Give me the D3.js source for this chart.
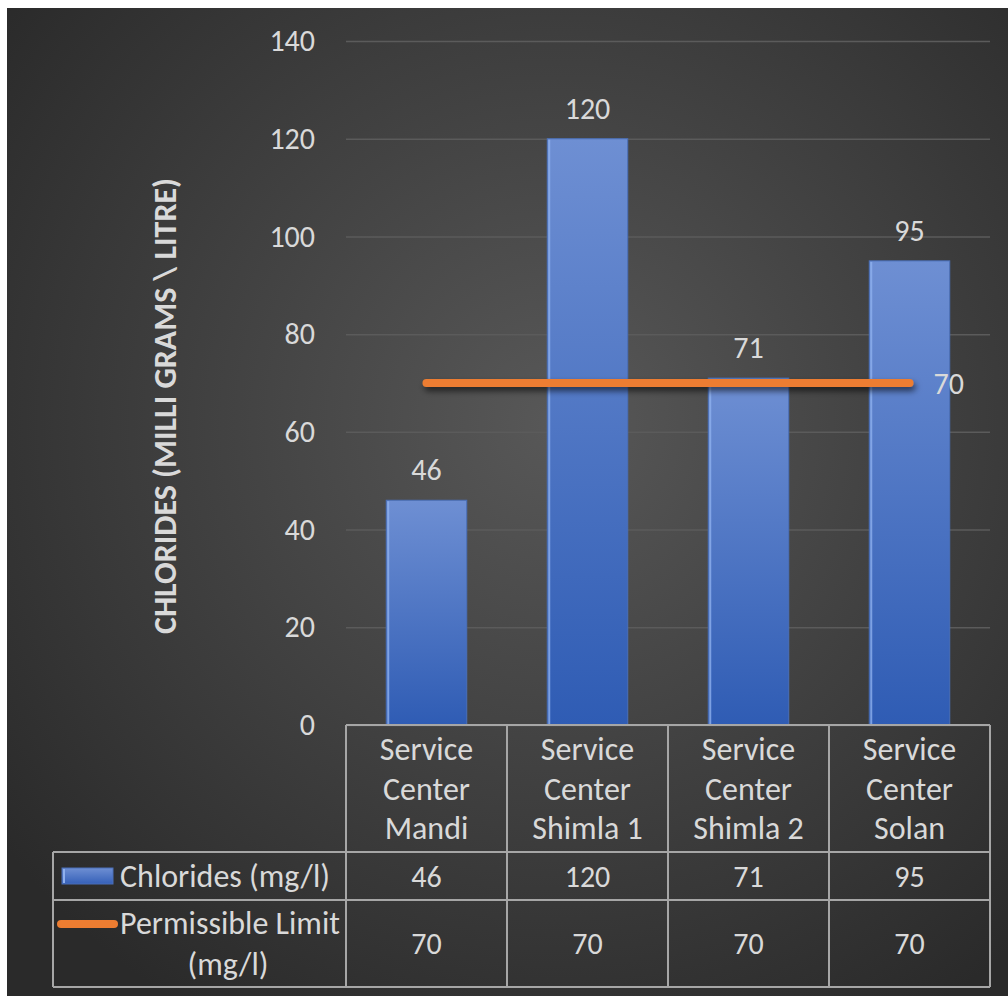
<!DOCTYPE html>
<html><head><meta charset="utf-8">
<script src="https://cdn.jsdelivr.net/npm/d3@7"></script>
<style>
html,body{margin:0;padding:0;background:#fff;}
svg{display:block;}
text{font-family:Carlito, Lato, "Open Sans", sans-serif;}
</style></head>
<body>
<svg id="chart" width="1008" height="996"></svg>
<script>
const categories = ["Service Center Mandi","Service Center Shimla 1","Service Center Shimla 2","Service Center Solan"];
const categoryLines = [["Service","Center","Mandi"],["Service","Center","Shimla 1"],["Service","Center","Shimla 2"],["Service","Center","Solan"]];
const chlorides = [46,120,71,95];
const permissible = [70,70,70,70];
const yTicks = [0,20,40,60,80,100,120,140];
const seriesNames = ["Chlorides (mg/l)","Permissible Limit (mg/l)"];
const yTitle = "CHLORIDES (MILLI GRAMS \\ LITRE)";

const svg = d3.select("#chart");
const defs = svg.append("defs");
const bg = defs.append("radialGradient").attr("id","bg").attr("cx","55%").attr("cy","42%").attr("r","70%");
bg.append("stop").attr("offset","0%").attr("stop-color","#585858");
bg.append("stop").attr("offset","100%").attr("stop-color","#2a2a2a");
const bar = defs.append("linearGradient").attr("id","barg").attr("x1",0).attr("y1",0).attr("x2",0).attr("y2",1);
bar.append("stop").attr("offset","0%").attr("stop-color","#6e8fd3");
bar.append("stop").attr("offset","100%").attr("stop-color","#2f5cb4");
const barL = defs.append("linearGradient").attr("id","barl").attr("x1",0).attr("y1",0).attr("x2",0).attr("y2",1);
barL.append("stop").attr("offset","0%").attr("stop-color","#6e8fd3");
barL.append("stop").attr("offset","100%").attr("stop-color","#3560b8");
const sh = defs.append("filter").attr("id","shadow").attr("filterUnits","userSpaceOnUse")
  .attr("x",0).attr("y",0).attr("width",1008).attr("height",996);
sh.append("feDropShadow").attr("dx",2).attr("dy",4).attr("stdDeviation",3).attr("flood-color","#000").attr("flood-opacity",0.6);

svg.append("rect").attr("x",7).attr("y",8).attr("width",1001).attr("height",988).attr("fill","url(#bg)");

const x0 = 346, x1 = 990, yTop = 41, yBot = 725;
const x = d3.scaleBand().domain(categories).range([x0,x1]).padding(0);
const y = d3.scaleLinear().domain([0,140]).range([yBot,yTop]);
const txt = "#d9d9d9";
const fsNum = 30, fsWord = 32;

// gridlines
const grid = svg.append("g").attr("transform",`translate(${x0},0)`)
  .call(d3.axisLeft(y).tickValues(yTicks).tickSize(-(x1-x0)).tickFormat(""));
grid.select(".domain").remove();
grid.selectAll("line").attr("stroke","#5b5b5b").attr("stroke-width",1.5);

// y axis labels
const ya = svg.append("g").attr("transform",`translate(${x0},0)`)
  .call(d3.axisLeft(y).tickValues(yTicks).tickSize(0).tickPadding(31));
ya.select(".domain").remove();
ya.selectAll("text").attr("fill",txt).attr("font-size",fsNum).style("font-family","Carlito, Lato, sans-serif");

// y title
svg.append("text").attr("transform",`translate(176,406) rotate(-90)`)
  .attr("text-anchor","middle").attr("fill",txt).attr("font-size",32).attr("font-weight","bold")
  .text(yTitle);

// bars
const bw = x.bandwidth()*0.5;
const bars = svg.append("g");
bars.selectAll("rect.b").data(chlorides).join("rect").attr("class","b")
  .attr("x",(d,i)=>x(categories[i])+x.bandwidth()/2-bw/2)
  .attr("y",d=>y(d)).attr("width",bw).attr("height",d=>yBot-y(d))
  .attr("fill","url(#barg)").attr("stroke","#4a6fb8").attr("stroke-width",1);
bars.selectAll("rect.hl").data(chlorides).join("rect").attr("class","hl")
  .attr("x",(d,i)=>x(categories[i])+x.bandwidth()/2-bw/2+1)
  .attr("y",d=>y(d)+1).attr("width",2).attr("height",d=>yBot-y(d)-1)
  .attr("fill","#8fb0ee").attr("opacity",0.8);
bars.selectAll("text").data(chlorides).join("text")
  .attr("x",(d,i)=>x(categories[i])+x.bandwidth()/2)
  .attr("y",d=>y(d)-20).attr("text-anchor","middle").attr("fill",txt).attr("font-size",fsNum)
  .text(d=>d);

// line
const line = d3.line().x((d,i)=>x(categories[i])+x.bandwidth()/2).y(d=>y(d));
svg.append("path").datum(permissible).attr("d",line).attr("fill","none")
  .attr("stroke","#ed7d31").attr("stroke-width",8).attr("stroke-linecap","round").attr("filter","url(#shadow)");
const li = permissible.length-1;
svg.append("text").attr("x",x(categories[li])+x.bandwidth()/2+24).attr("y",y(permissible[li])).attr("dy","0.35em")
  .attr("fill",txt).attr("font-size",fsNum).text(permissible[li]);

// data table
const rowTop = yBot, r1 = 852, r2 = 900, r3 = 987, legL = 53;
const tb = svg.append("g").attr("stroke","#a6a6a6").attr("stroke-width",2).attr("fill","none");
tb.append("line").attr("x1",x0).attr("x2",x1).attr("y1",rowTop).attr("y2",rowTop);
[r1,r2,r3].forEach(yy=>tb.append("line").attr("x1",legL).attr("x2",x1).attr("y1",yy).attr("y2",yy));
categories.forEach(c=>tb.append("line").attr("x1",x(c)).attr("x2",x(c)).attr("y1",rowTop).attr("y2",r3));
tb.append("line").attr("x1",x1).attr("x2",x1).attr("y1",rowTop).attr("y2",r3);
tb.append("line").attr("x1",legL).attr("x2",legL).attr("y1",r1).attr("y2",r3);

const tt = svg.append("g").attr("fill",txt).attr("text-anchor","middle");
categoryLines.forEach((lines,i)=>{
  lines.forEach((l,j)=>tt.append("text").attr("x",x(categories[i])+x.bandwidth()/2).attr("y",749+j*39.5).attr("dy","0.35em").attr("font-size",fsWord).text(l));
});
chlorides.forEach((v,i)=>tt.append("text").attr("x",x(categories[i])+x.bandwidth()/2).attr("y",876).attr("dy","0.35em").attr("font-size",fsNum).text(v));
permissible.forEach((v,i)=>tt.append("text").attr("x",x(categories[i])+x.bandwidth()/2).attr("y",943).attr("dy","0.35em").attr("font-size",fsNum).text(v));

// legend
svg.append("rect").attr("x",62).attr("y",868).attr("width",51).attr("height",16).attr("fill","url(#barl)").attr("stroke","#4a6fb8");
svg.append("rect").attr("x",63).attr("y",869).attr("width",2).attr("height",14).attr("fill","#8fb0ee");
svg.append("text").attr("x",120).attr("y",876).attr("dy","0.35em").attr("fill",txt).attr("font-size",fsWord).text(seriesNames[0]);
svg.append("line").attr("x1",61).attr("x2",114).attr("y1",924).attr("y2",924).attr("stroke","#ed7d31").attr("stroke-width",8).attr("stroke-linecap","round");
svg.append("text").attr("x",120).attr("y",923).attr("dy","0.35em").attr("fill",txt).attr("font-size",fsWord).text("Permissible Limit");
svg.append("text").attr("x",228).attr("y",964).attr("dy","0.35em").attr("text-anchor","middle").attr("fill",txt).attr("font-size",fsWord).text("(mg/l)");
</script>
</body></html>
